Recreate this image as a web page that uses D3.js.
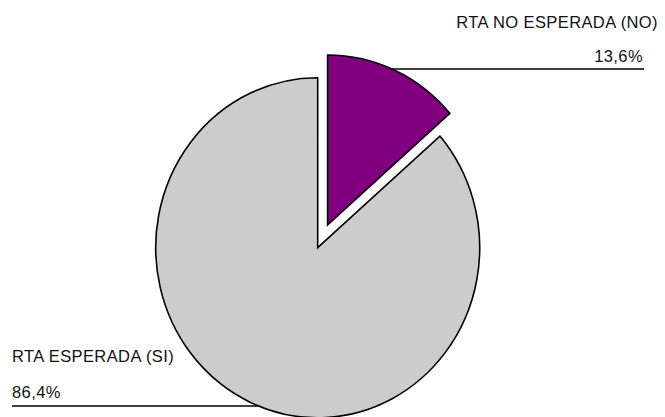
<!DOCTYPE html>
<html>
<head>
<meta charset="utf-8">
<script src="https://cdn.jsdelivr.net/npm/d3@7/dist/d3.min.js"></script>
<style>
  html, body { margin: 0; padding: 0; background: #ffffff; }
  svg { display: block; }
  text { font-family: "Liberation Sans", Arial, sans-serif; fill: #111; }
</style>
</head>
<body>
<svg id="chart" width="665" height="417"></svg>
<script>
// Survey answers: share of expected vs. unexpected responses
const categories = ["RTA NO ESPERADA (NO)", "RTA ESPERADA (SI)"];
const values = [13.6, 86.4];
const valueLabels = ["13,6%", "86,4%"];
const colors = ["#800080", "#cccccc"];
const explode = [25, 0];

const svg = d3.select("#chart");
const cx = 317.7, cy = 247.7;
const ry = 170, rx = 162;

const pie = d3.pie().sort(null).value(d => d);
const arcs = pie(values);
const arc = d3.arc().innerRadius(0).outerRadius(ry);

// draw slices in an x-squashed frame so the pie is slightly oval
arcs.forEach((a, i) => {
  const mid = (a.startAngle + a.endAngle) / 2;
  const dx = explode[i] * Math.sin(mid) * (rx / ry);
  const dy = -explode[i] * Math.cos(mid);
  svg.append("g")
    .attr("transform", `translate(${cx + dx},${cy + dy}) scale(${rx / ry},1)`)
    .append("path")
    .attr("d", arc(a))
    .attr("fill", colors[i])
    .attr("stroke", "#000")
    .attr("stroke-width", 1.6)
    .attr("vector-effect", "non-scaling-stroke")
    .attr("stroke-linejoin", "miter");
});

// x on the oval outline of slice i at a given y (left or right side)
function edgeX(i, y, side) {
  const a = arcs[i];
  const mid = (a.startAngle + a.endAngle) / 2;
  const ox = cx + explode[i] * Math.sin(mid) * (rx / ry);
  const oy = cy - explode[i] * Math.cos(mid);
  const t = (y - oy) / ry;
  return ox + side * rx * Math.sqrt(Math.max(0, 1 - t * t));
}

const fontSize = 16.5;

// label for the unexpected answers (top right)
const lineY0 = 69;
svg.append("line")
  .attr("x1", edgeX(0, lineY0, 1)).attr("x2", 644)
  .attr("y1", lineY0).attr("y2", lineY0)
  .attr("stroke", "#000").attr("stroke-width", 1.3);
svg.append("text")
  .attr("x", 658).attr("y", 28)
  .attr("text-anchor", "end")
  .attr("font-size", fontSize)
  .attr("letter-spacing", 0.4)
  .text(categories[0]);
svg.append("text")
  .attr("x", 643).attr("y", 62)
  .attr("text-anchor", "end")
  .attr("font-size", fontSize)
  .attr("letter-spacing", 0.4)
  .text(valueLabels[0]);

// label for the expected answers (bottom left)
const lineY1 = 406;
svg.append("line")
  .attr("x1", 12).attr("x2", edgeX(1, lineY1, -1))
  .attr("y1", lineY1).attr("y2", lineY1)
  .attr("stroke", "#000").attr("stroke-width", 1.3);
svg.append("text")
  .attr("x", 12).attr("y", 362)
  .attr("font-size", fontSize)
  .attr("letter-spacing", 0.4)
  .text(categories[1]);
svg.append("text")
  .attr("x", 12).attr("y", 398)
  .attr("font-size", fontSize)
  .attr("letter-spacing", 0.4)
  .text(valueLabels[1]);
</script>
</body>
</html>
